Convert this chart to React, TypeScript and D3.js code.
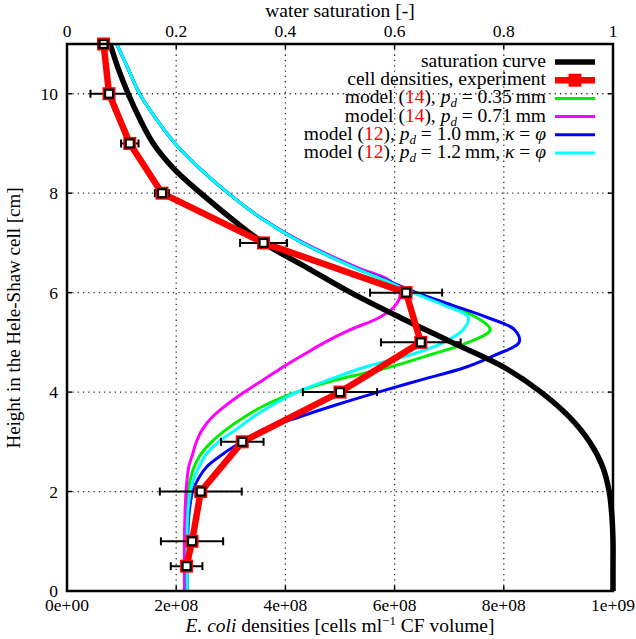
import React, { useEffect, useRef } from 'react';
import * as d3 from 'd3';

// axes
const xTicks = [0, 2e8, 4e8, 6e8, 8e8, 1e9];
const xTickLabels = ['0e+00', '2e+08', '4e+08', '6e+08', '8e+08', '1e+09'];
const topTicks = [0, 0.2, 0.4, 0.6, 0.8, 1];
const topTickLabels = ['0', '0.2', '0.4', '0.6', '0.8', '1'];
const yTicks = [0, 2, 4, 6, 8, 10];

// experiment (cells/ml)
const expHeights = [11, 10, 9, 8, 7, 6, 5, 4, 3, 2, 1, 0.5];
const expDensity = [6.7e7, 7.7e7, 1.15e8, 1.74e8, 3.6e8, 6.21e8, 6.48e8, 5.0e8, 3.21e8, 2.45e8, 2.29e8, 2.19e8];
const expError = [1.0e7, 3.4e7, 1.6e7, 1.3e7, 4.3e7, 6.6e7, 7.3e7, 6.8e7, 3.9e7, 7.5e7, 5.7e7, 2.9e7];

// saturation curve (top axis)
const satHeights = [11, 10.5, 10, 9.5, 9, 8.5, 8, 7.5, 7, 6.5, 6, 5.5, 5, 4.5, 4, 3.5, 3, 2.5, 2, 1.5, 1, 0.5, 0];
const satValues = [0.079, 0.094, 0.112, 0.133, 0.158, 0.195, 0.245, 0.3, 0.36, 0.44, 0.52, 0.61, 0.705, 0.8, 0.868, 0.92, 0.957, 0.981, 0.993, 0.998, 1.0, 1.0, 1.0];

// model curves, densities in units of 1e8 cells/ml
const modelHeights = [11, 10.5, 10, 9.5, 9, 8.5, 8, 7.5, 7, 6.5, 6.25, 6, 5.75, 5.5, 5.25, 5, 4.75, 4.5, 4.25, 4, 3.75, 3.5, 3.25, 3, 2.75, 2.5, 2.25, 2, 1.5, 1, 0.5, 0];
const model14a = [0.91, 1.12, 1.33, 1.63, 1.98, 2.43, 2.95, 3.55, 4.31, 5.27, 5.82, 6.35, 6.95, 7.5, 7.75, 7.35, 6.65, 5.9, 4.95, 4.2, 3.65, 3.25, 2.92, 2.65, 2.45, 2.33, 2.26, 2.22, 2.2, 2.19, 2.19, 2.19];
const model14b = [0.91, 1.12, 1.33, 1.63, 1.98, 2.43, 2.95, 3.56, 4.34, 5.33, 5.9, 6.1, 6.02, 5.72, 5.18, 4.72, 4.33, 3.95, 3.6, 3.25, 2.93, 2.66, 2.48, 2.37, 2.3, 2.23, 2.2, 2.18, 2.16, 2.15, 2.15, 2.15];
const model12a = [0.91, 1.12, 1.33, 1.63, 1.98, 2.43, 2.95, 3.55, 4.31, 5.28, 5.85, 6.4, 7.05, 7.7, 8.2, 8.28, 7.85, 7.3, 6.5, 5.7, 4.95, 4.25, 3.6, 3.2, 2.85, 2.56, 2.4, 2.3, 2.23, 2.21, 2.2, 2.2];
const model12b = [0.91, 1.12, 1.33, 1.63, 1.98, 2.43, 2.95, 3.55, 4.31, 5.27, 5.82, 6.33, 6.9, 7.35, 7.25, 6.9, 6.3, 5.45, 4.8, 4.21, 3.78, 3.41, 3.1, 2.78, 2.55, 2.42, 2.32, 2.26, 2.21, 2.2, 2.2, 2.2];

const modelSeries = [model14a, model14b, model12a, model12b];
const modelColors = ['#00ee00', '#ff00ff', '#0000ff', '#00ffff'];
const modelRefs = ['14', '14', '12', '12'];
const modelPd = ['0.35', '0.71', '1.0', '1.2'];
const modelKappa = [false, false, true, true];

const FONT = '"Liberation Serif", "DejaVu Serif", serif';

const App: React.FC = () => {
  const svgRef = useRef<SVGSVGElement>(null);

  useEffect(() => {
    if (!svgRef.current) return;
    const width = 636;
    const height = 639;
    const left = 67, right = 613, top = 44, bottom = 591;

    const svg = d3.select(svgRef.current);
    svg.selectAll('*').remove();
    svg.attr('width', width).attr('height', height).attr('font-family', FONT);

    const x = d3.scaleLinear().domain([0, 1e9]).range([left, right]);
    const x2 = d3.scaleLinear().domain([0, 1]).range([left, right]);
    const y = d3.scaleLinear().domain([0, 11]).range([bottom, top]);

    svg.append('defs').append('clipPath').attr('id', 'plotclip')
      .append('rect').attr('x', left).attr('y', top - 1)
      .attr('width', right - left + 4).attr('height', bottom - top + 2);

    /* grid */
    const grid = svg.append('g')
      .attr('stroke', '#333')
      .attr('stroke-width', 1.3)
      .attr('stroke-dasharray', '1.3,4');
    grid.selectAll('line.v')
      .data(xTicks.slice(1, -1))
      .join('line')
      .attr('x1', d => x(d)).attr('x2', d => x(d))
      .attr('y1', top).attr('y2', bottom);
    grid.selectAll('line.h')
      .data(yTicks.slice(1))
      .join('line')
      .attr('class', 'h')
      .attr('x1', left).attr('x2', right)
      .attr('y1', d => y(d)).attr('y2', d => y(d));

    /* model curves */
    const plot = svg.append('g').attr('clip-path', 'url(#plotclip)');
    const modelLine = d3.line<number>()
      .x(d => x(d * 1e8))
      .y((_, i) => y(modelHeights[i]))
      .curve(d3.curveCatmullRom.alpha(0.5));

    modelSeries.forEach((s, k) => {
      plot.append('path')
        .attr('d', modelLine(s) as string)
        .attr('fill', 'none')
        .attr('stroke', modelColors[k])
        .attr('stroke-width', 3);
    });

    /* saturation curve */
    const satLine = d3.line<number>()
      .x(d => x2(d))
      .y((_, i) => y(satHeights[i]))
      .curve(d3.curveCatmullRom.alpha(0.5));
    svg.append('path')
      .attr('d', satLine(satValues) as string)
      .attr('fill', 'none')
      .attr('stroke', '#000')
      .attr('stroke-width', 5.5);

    /* experiment */
    const expLine = d3.line<number>()
      .x(d => x(d))
      .y((_, i) => y(expHeights[i]));
    svg.append('path')
      .attr('d', expLine(expDensity) as string)
      .attr('fill', 'none')
      .attr('stroke', '#ff0000')
      .attr('stroke-width', 6.5)
      .attr('stroke-linejoin', 'round');

    const err = svg.append('g').attr('stroke', '#000').attr('stroke-width', 2);
    expDensity.forEach((d, i) => {
      const yy = y(expHeights[i]);
      const x0 = x(d - expError[i]);
      const x1 = x(d + expError[i]);
      err.append('line').attr('x1', x0).attr('x2', x1).attr('y1', yy).attr('y2', yy);
      err.append('line').attr('x1', x0).attr('x2', x0).attr('y1', yy - 4).attr('y2', yy + 4);
      err.append('line').attr('x1', x1).attr('x2', x1).attr('y1', yy - 4).attr('y2', yy + 4);
    });

    const marks = svg.append('g');
    expDensity.forEach((d, i) => {
      const cx = x(d);
      const cy = y(expHeights[i]);
      marks.append('rect')
        .attr('x', cx - 6.5).attr('y', cy - 6.5)
        .attr('width', 13).attr('height', 13)
        .attr('fill', '#ff0000');
      marks.append('rect')
        .attr('x', cx - 4).attr('y', cy - 4)
        .attr('width', 8).attr('height', 8)
        .attr('fill', '#fff')
        .attr('stroke', '#000')
        .attr('stroke-width', 2.2);
    });

    /* frame and ticks */
    svg.append('rect')
      .attr('x', left).attr('y', top)
      .attr('width', right - left).attr('height', bottom - top)
      .attr('fill', 'none')
      .attr('stroke', '#000')
      .attr('stroke-width', 2.5);

    const ticks = svg.append('g').attr('stroke', '#000').attr('stroke-width', 1.5);
    xTicks.forEach(t => {
      ticks.append('line').attr('x1', x(t)).attr('x2', x(t)).attr('y1', bottom).attr('y2', bottom - 5);
    });
    topTicks.forEach(t => {
      ticks.append('line').attr('x1', x2(t)).attr('x2', x2(t)).attr('y1', top).attr('y2', top + 5);
    });
    yTicks.forEach(t => {
      ticks.append('line').attr('x1', left).attr('x2', left + 5).attr('y1', y(t)).attr('y2', y(t));
      ticks.append('line').attr('x1', right).attr('x2', right - 5).attr('y1', y(t)).attr('y2', y(t));
    });

    const tickFont = '17.5px';
    svg.append('g')
      .selectAll('text')
      .data(xTicks)
      .join('text')
      .attr('x', d => x(d))
      .attr('y', 611)
      .attr('text-anchor', 'middle')
      .style('font-size', tickFont)
      .text((_, i) => xTickLabels[i]);

    svg.append('g')
      .selectAll('text')
      .data(topTicks)
      .join('text')
      .attr('x', d => x2(d))
      .attr('y', 37)
      .attr('text-anchor', 'middle')
      .style('font-size', tickFont)
      .text((_, i) => topTickLabels[i]);

    svg.append('g')
      .selectAll('text')
      .data(yTicks)
      .join('text')
      .attr('x', 58)
      .attr('y', d => y(d) + 6)
      .attr('text-anchor', 'end')
      .style('font-size', tickFont)
      .text(d => String(d));

    /* axis titles */
    svg.append('text')
      .attr('x', 340).attr('y', 17)
      .attr('text-anchor', 'middle')
      .style('font-size', '19.5px')
      .text('water saturation [-]');

    const xt = svg.append('text')
      .attr('x', 340).attr('y', 632)
      .attr('text-anchor', 'middle')
      .style('font-size', '19.5px');
    xt.append('tspan').style('font-style', 'italic').text('E. coli');
    xt.append('tspan').text(' densities [cells ml');
    xt.append('tspan').attr('dy', -7).style('font-size', '13px').text('−1');
    xt.append('tspan').attr('dy', 7).text(' CF volume]');

    svg.append('text')
      .attr('transform', 'translate(20,318) rotate(-90)')
      .attr('text-anchor', 'middle')
      .style('font-size', '19px')
      .text('Height in the Hele-Shaw cell [cm]');

    /* legend */
    const legend = svg.append('g').style('font-size', '19.5px');
    const rowY = (i: number) => 62 + i * 18.2;
    const textX = 546;
    const sampleX0 = 555;
    const sampleX1 = 595;

    legend.append('text').attr('x', textX).attr('y', rowY(0) + 5)
      .attr('text-anchor', 'end').text('saturation curve');
    legend.append('line').attr('x1', sampleX0).attr('x2', sampleX1)
      .attr('y1', rowY(0)).attr('y2', rowY(0))
      .attr('stroke', '#000').attr('stroke-width', 5.5);

    legend.append('text').attr('x', textX).attr('y', rowY(1) + 5)
      .attr('text-anchor', 'end').text('cell densities, experiment');
    legend.append('line').attr('x1', sampleX0).attr('x2', sampleX1)
      .attr('y1', rowY(1)).attr('y2', rowY(1))
      .attr('stroke', '#ff0000').attr('stroke-width', 6.5);
    legend.append('rect')
      .attr('x', (sampleX0 + sampleX1) / 2 - 6.5).attr('y', rowY(1) - 6.5)
      .attr('width', 13).attr('height', 13).attr('fill', '#ff0000');

    modelSeries.forEach((_, k) => {
      const ry = rowY(k + 2);
      const t = legend.append('text').attr('x', textX).attr('y', ry + 5).attr('text-anchor', 'end');
      t.append('tspan').text('model (');
      t.append('tspan').attr('fill', '#ff0000').text(modelRefs[k]);
      t.append('tspan').text('), ');
      t.append('tspan').style('font-style', 'italic').text('p');
      t.append('tspan').attr('dy', 4).style('font-style', 'italic').style('font-size', '13px').text('d');
      t.append('tspan').attr('dy', -4).text(` = ${modelPd[k]}\u2009mm`);
      if (modelKappa[k]) {
        t.append('tspan').text(', ');
        t.append('tspan').style('font-style', 'italic').text('κ');
        t.append('tspan').text(' = ');
        t.append('tspan').style('font-style', 'italic').text('φ');
      }
      legend.append('line').attr('x1', sampleX0).attr('x2', sampleX1)
        .attr('y1', ry).attr('y2', ry)
        .attr('stroke', modelColors[k]).attr('stroke-width', 3);
    });
  }, []);

  return (
    <svg
      ref={svgRef}
      style={{ position: 'absolute', left: 0, top: 0, background: '#ffffff' }}
    />
  );
};

export default App;
